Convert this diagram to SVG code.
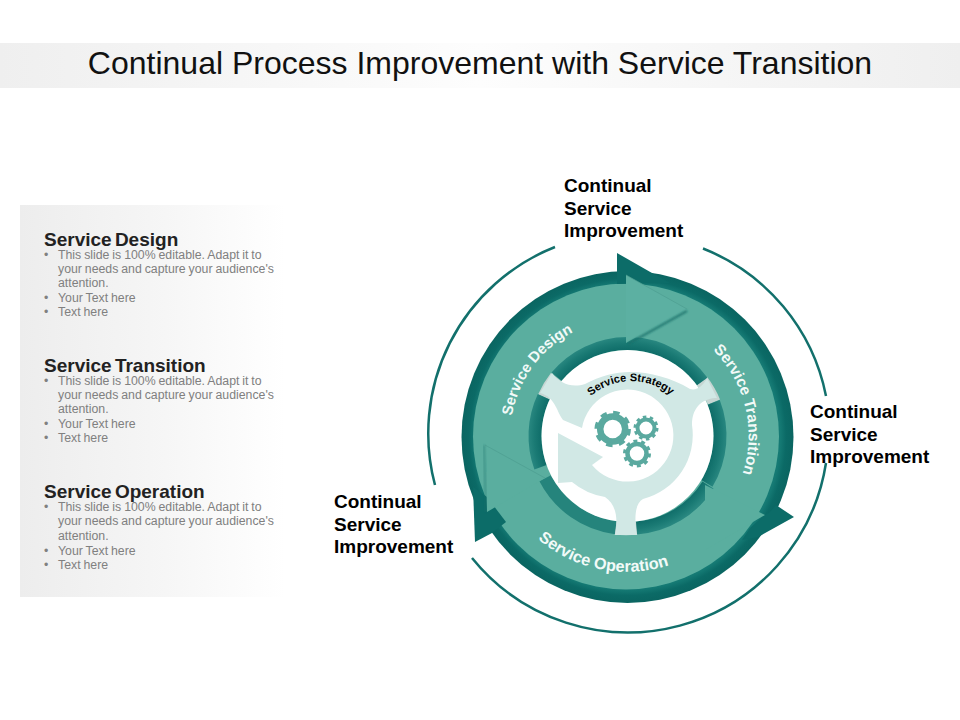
<svg xmlns="http://www.w3.org/2000/svg" width="960" height="720" viewBox="0 0 960 720">
<style>
text{font-family:"Liberation Sans",Arial,sans-serif}
.title{font-size:32px;fill:#111}
.h{font-size:19px;font-weight:700;fill:#222;word-spacing:-2px}
.b{font-size:12.300px;fill:#808080;word-spacing:-.5px}
.l{font-size:19px;font-weight:700;fill:#000}
.w{font-size:15px;font-weight:700;fill:#f2faf8}
.thin{fill:none;stroke:#12706c;stroke-width:2.5}
.seg{fill:none;stroke:url(#rg);stroke-width:13}
.arrow{fill:#5aae9f}
.gear{fill:none;stroke:#5aa99f}
</style>
<defs>
<linearGradient id="tb" x1="0" x2="1" y1="0" y2="0"><stop offset="0" stop-color="#efefef"/><stop offset=".5" stop-color="#fdfdfd"/><stop offset="1" stop-color="#efefef"/></linearGradient>
<linearGradient id="pn" x1="0" x2="1" y1="0" y2="0"><stop offset="0" stop-color="#ededed"/><stop offset=".55" stop-color="#f6f6f6"/><stop offset="1" stop-color="#ffffff"/></linearGradient>
<radialGradient id="dk" gradientUnits="userSpaceOnUse" cx="627.5" cy="437" r="166"><stop offset=".92" stop-color="#157a74"/><stop offset=".955" stop-color="#0b6a66"/><stop offset="1" stop-color="#0a6561"/></radialGradient>
<radialGradient id="rg" gradientUnits="userSpaceOnUse" cx="627.5" cy="436" r="99"><stop offset=".87" stop-color="#0f6d69"/><stop offset=".94" stop-color="#1a7a74"/><stop offset="1" stop-color="#288780"/></radialGradient>
<filter id="bl" x="-30%" y="-30%" width="160%" height="160%"><feGaussianBlur stdDeviation="1"/></filter>
<path id="p1" d="M512,416 A117,117 0 0 1 700,344"/>
<path id="p2" d="M713,350 A121,121 0 0 1 732,497"/>
<path id="p3" d="M538,539 A136,136 0 0 0 714,540"/>
<path id="p4" d="M591,396 A62,62 0 0 1 688,418"/>
</defs>
<rect id="title-band" x="0" y="43" width="960" height="45" fill="url(#tb)"/>
<text class="title" x="480" y="74" text-anchor="middle" id="title">Continual Process Improvement with Service Transition</text>
<rect id="panel" x="20" y="205" width="265" height="392" fill="url(#pn)"/>
<g id="service-design-text">
<text class="h" x="44" y="246">Service Design</text>
<text class="b"><tspan x="44" y="259">•</tspan><tspan x="58" y="259">This slide is 100% editable. Adapt it to</tspan><tspan x="58" y="273">your needs and capture your audience's</tspan><tspan x="58" y="287">attention.</tspan><tspan x="44" y="302">•</tspan><tspan x="58" y="302">Your Text here</tspan><tspan x="44" y="316">•</tspan><tspan x="58" y="316">Text here</tspan></text>
</g>
<g id="service-transition-text">
<text class="h" x="44" y="372">Service Transition</text>
<text class="b"><tspan x="44" y="385">•</tspan><tspan x="58" y="385">This slide is 100% editable. Adapt it to</tspan><tspan x="58" y="399">your needs and capture your audience's</tspan><tspan x="58" y="413">attention.</tspan><tspan x="44" y="428">•</tspan><tspan x="58" y="428">Your Text here</tspan><tspan x="44" y="442">•</tspan><tspan x="58" y="442">Text here</tspan></text>
</g>
<g id="service-operation-text">
<text class="h" x="44" y="498">Service Operation</text>
<text class="b"><tspan x="44" y="511">•</tspan><tspan x="58" y="511">This slide is 100% editable. Adapt it to</tspan><tspan x="58" y="525">your needs and capture your audience's</tspan><tspan x="58" y="540">attention.</tspan><tspan x="44" y="555">•</tspan><tspan x="58" y="555">Your Text here</tspan><tspan x="44" y="569">•</tspan><tspan x="58" y="569">Text here</tspan></text>
</g>
<g id="outer-arcs">
<path class="thin" d="M703,248.500 A200.500,200.500 0 0 1 826,396"/>
<path class="thin" d="M826,463 A200.500,200.500 0 0 1 472,558"/>
<path class="thin" d="M435,485 A200.500,200.500 0 0 1 555,247"/>
</g>
<g id="labels">
<text class="l"><tspan x="564" y="192">Continual</tspan><tspan x="564" y="215">Service</tspan><tspan x="564" y="237">Improvement</tspan></text>
<text class="l"><tspan x="810" y="418">Continual</tspan><tspan x="810" y="441">Service</tspan><tspan x="810" y="463">Improvement</tspan></text>
<text class="l"><tspan x="334" y="508">Continual</tspan><tspan x="334" y="531">Service</tspan><tspan x="334" y="553">Improvement</tspan></text>
</g>
<g id="wheel">
<circle cx="627.500" cy="437" r="166" fill="url(#dk)"/>
<circle cx="626" cy="436.500" r="153" fill="#5aae9f"/>
<polygon points="617,253 652,273 670,283 617,284" fill="#0c6c68"/>
<polygon points="794,517 776,505 770,512 765,515 750,528 742,540 758,537" fill="#0c6c68"/>
<polygon points="475,542 492,533 506,522 487,497 473,487" fill="#0c6c68"/>
</g>
<g id="inner-ring">
<path d="M556,377 A92.500,92.500 0 0 0 544,397 M702,381 A92.500,92.500 0 0 1 714,402 M615,528 A92.500,92.500 0 0 0 637,528" fill="none" stroke="#c6d6d3" stroke-width="13"/>
<path class="seg" d="M556.500,376.700 A92.500,92.500 0 0 1 702.200,381.500"/>
<path class="seg" d="M713.700,402.400 A92.500,92.500 0 0 1 706.900,483.400"/>
<path class="seg" d="M708,485 A92.500,92.500 0 0 1 636.500,528"/>
<path class="seg" d="M615.700,527.700 A92.500,92.500 0 0 1 545.200,478.300" style="stroke:#25847c"/>
<path class="seg" d="M540.500,467.300 A92.500,92.500 0 0 1 543.700,396.700"/>
</g>
<g id="arrows">
<polygon class="arrow" points="626,275 687,309 626,343" style="fill:#5cb0a2"/>
<line x1="628" y1="344" x2="687" y2="311" stroke="#1c6e69" stroke-width="2" filter="url(#bl)"/>
<line x1="626" y1="275" x2="687" y2="309" stroke="#4d9e90" stroke-width=".7"/>
<polygon class="arrow" points="705,485 765,515 705,550"/>
<line x1="704.500" y1="485" x2="704.500" y2="550" stroke="#1c6e69" stroke-width="2.500" filter="url(#bl)"/>
<polygon class="arrow" points="485,445 545,478 487,512"/>
<line x1="485" y1="445" x2="545" y2="478" stroke="#4d9e90" stroke-width=".7"/>
<line x1="484" y1="445" x2="486" y2="512" stroke="#1c6e69" stroke-width="1.500" opacity=".55" filter="url(#bl)"/>
</g>
<circle id="hub" cx="627.500" cy="436" r="86" fill="#fff"/>
<path id="swirl" fill="#d1e8e5" d="M552,373 C560,384 572,388 585,384 C600,376 615,372 630,372 C650,372 672,378 690,389 C697,391 703,386 707,378 L717,398 C705,398 692,405 692,425 A66,66 0 0 1 643,499 C635,503 634,518 637,535 L615,535 C618,520 617,505 605,497 A68,68 0 0 1 572,482 L558,483 L558,433 L603,457 L592,465 A46,46 0 1 0 582,428 L563,420 C556,410 555,397 540,393 Z"/>
<g id="gears">
<circle class="gear" cx="612.700" cy="429" r="12.500" stroke-width="6.500"/>
<circle class="gear" cx="612.700" cy="429" r="16" stroke-width="4.500" stroke-dasharray="6.280 6.280"/>
<circle class="gear" cx="646" cy="428" r="8.500" stroke-width="4"/>
<circle class="gear" cx="646" cy="428" r="11" stroke-width="3" stroke-dasharray="3.450 3.460"/>
<circle class="gear" cx="637" cy="453.500" r="9.500" stroke-width="4.500"/>
<circle class="gear" cx="637" cy="453.500" r="12.500" stroke-width="3" stroke-dasharray="3.930 3.920"/>
</g>
<g id="ring-labels">
<text class="w"><textPath href="#p1">Service Design</textPath></text>
<text class="w" style="font-size:15.500px"><textPath href="#p2">Service Transition</textPath></text>
<text class="w" style="font-size:16.300px"><textPath href="#p3">Service Operation</textPath></text>
<text font-size="11" font-weight="700" fill="#000"><textPath href="#p4">Service Strategy</textPath></text>
</g>
</svg>
